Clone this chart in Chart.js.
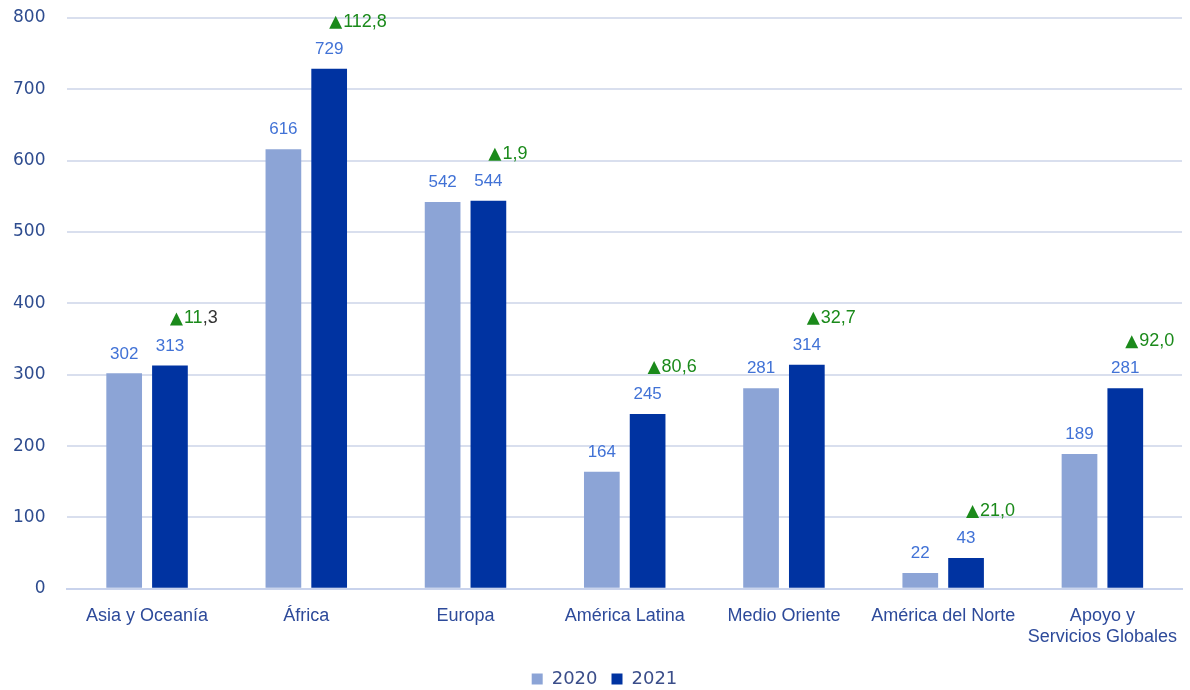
<!DOCTYPE html>
<html>
<head>
<meta charset="utf-8">
<script src="https://cdn.jsdelivr.net/npm/chart.js@4.4.1/dist/chart.umd.min.js"></script>
<style>
  body { margin: 0; background: #fff; }
  #wrap { width: 1190px; height: 690px; }
</style>
</head>
<body>
<div id="wrap"><canvas id="grafico" width="1190" height="690"></canvas></div>
<script>
// datos
const categorias = ['Asia y Oceanía', 'África', 'Europa', 'América Latina', 'Medio Oriente', 'América del Norte', ['Apoyo y', 'Servicios Globales']];
const valores2020 = [302, 616, 542, 164, 281, 22, 189];
const valores2021 = [313, 729, 544, 245, 314, 43, 281];
const variaciones = ['11,3', '112,8', '1,9', '80,6', '32,7', '21,0', '92,0'];
const ticksY = [0, 100, 200, 300, 400, 500, 600, 700, 800];

const azulClaro = '#8CA4D6';
const azulOscuro = '#0033A1';
const colorEtiqueta = '#4172D6';
const verde = '#1B8A1B';

// etiquetas de valor y variaciones encima de las barras
const etiquetasPlugin = {
  id: 'etiquetas',
  afterLayout(chart) {
    // mover la leyenda un poco a la derecha como en el original
    chart.legend.left += 18;
    chart.legend.right += 18;
  },
  afterDatasetsDraw(chart) {
    const ctx = chart.ctx;
    ctx.save();
    ctx.font = '17px "Liberation Sans", Arial, sans-serif';
    ctx.fillStyle = colorEtiqueta;
    ctx.textAlign = 'center';
    ctx.textBaseline = 'bottom';
    chart.data.datasets.forEach((ds, i) => {
      chart.getDatasetMeta(i).data.forEach((bar, j) => {
        ctx.fillText(ds.data[j], bar.x, bar.y - 11);
      });
    });
    // variaciones
    const meta = chart.getDatasetMeta(1);
    ctx.textAlign = 'left';
    ctx.font = '18px "Liberation Sans", Arial, sans-serif';
    meta.data.forEach((bar, j) => {
      const x = bar.x;
      const y = bar.y - 40;
      ctx.fillStyle = verde;
      ctx.beginPath();
      ctx.moveTo(x, y);
      ctx.lineTo(x + 13, y);
      ctx.lineTo(x + 6.5, y - 13);
      ctx.closePath();
      ctx.fill();
      const txt = variaciones[j];
      if (j === 0) {
        // en el original ",3" sale en negro
        const parte = txt.split(',');
        ctx.fillStyle = verde;
        ctx.fillText(parte[0], x + 14, y + 2);
        const w = ctx.measureText(parte[0]).width;
        ctx.fillStyle = '#333333';
        ctx.fillText(',' + parte[1], x + 14 + w, y + 2);
      } else {
        ctx.fillText(txt, x + 14, y + 2);
      }
    });
    ctx.restore();
  }
};

new Chart(document.getElementById('grafico').getContext('2d'), {
  type: 'bar',
  data: {
    labels: categorias,
    datasets: [
      { label: '2020', data: valores2020, backgroundColor: azulClaro },
      { label: '2021', data: valores2021, backgroundColor: azulOscuro }
    ]
  },
  options: {
    responsive: false,
    animation: false,
    datasets: { bar: { categoryPercentage: 0.575, barPercentage: 0.78 } },
    layout: { autoPadding: false, padding: { left: -9, right: 8, top: 18, bottom: -8 } },
    plugins: {
      tooltip: { enabled: false },
      legend: {
        position: 'bottom',
        labels: {
          boxWidth: 11,
          boxHeight: 11,
          padding: 14,
          color: '#3B4E8A',
          font: { size: 18, family: '"DejaVu Sans", sans-serif' }
        }
      }
    },
    scales: {
      x: {
        grid: { display: false },
        border: { color: '#C9D3EC', width: 2 },
        ticks: {
          color: '#2D4A9A',
          font: { size: 18, family: '"Liberation Sans", Arial, sans-serif' },
          maxRotation: 0,
          autoSkip: false,
          padding: 8
        }
      },
      y: {
        min: 0,
        max: 800,
        afterBuildTicks(axis) { axis.ticks = ticksY.map(v => ({ value: v })); },
        // el padding de las marcas no debe empujar el área hacia abajo
        afterFit(axis) { axis.paddingTop = 10; },
        grid: { color: '#D9DFEE', lineWidth: 2, drawTicks: false },
        border: { display: false },
        ticks: {
          color: '#2E4C8F',
          font: { size: 17, family: '"DejaVu Sans", sans-serif' },
          padding: 22
        }
      }
    }
  },
  plugins: [etiquetasPlugin]
});
</script>
</body>
</html>
